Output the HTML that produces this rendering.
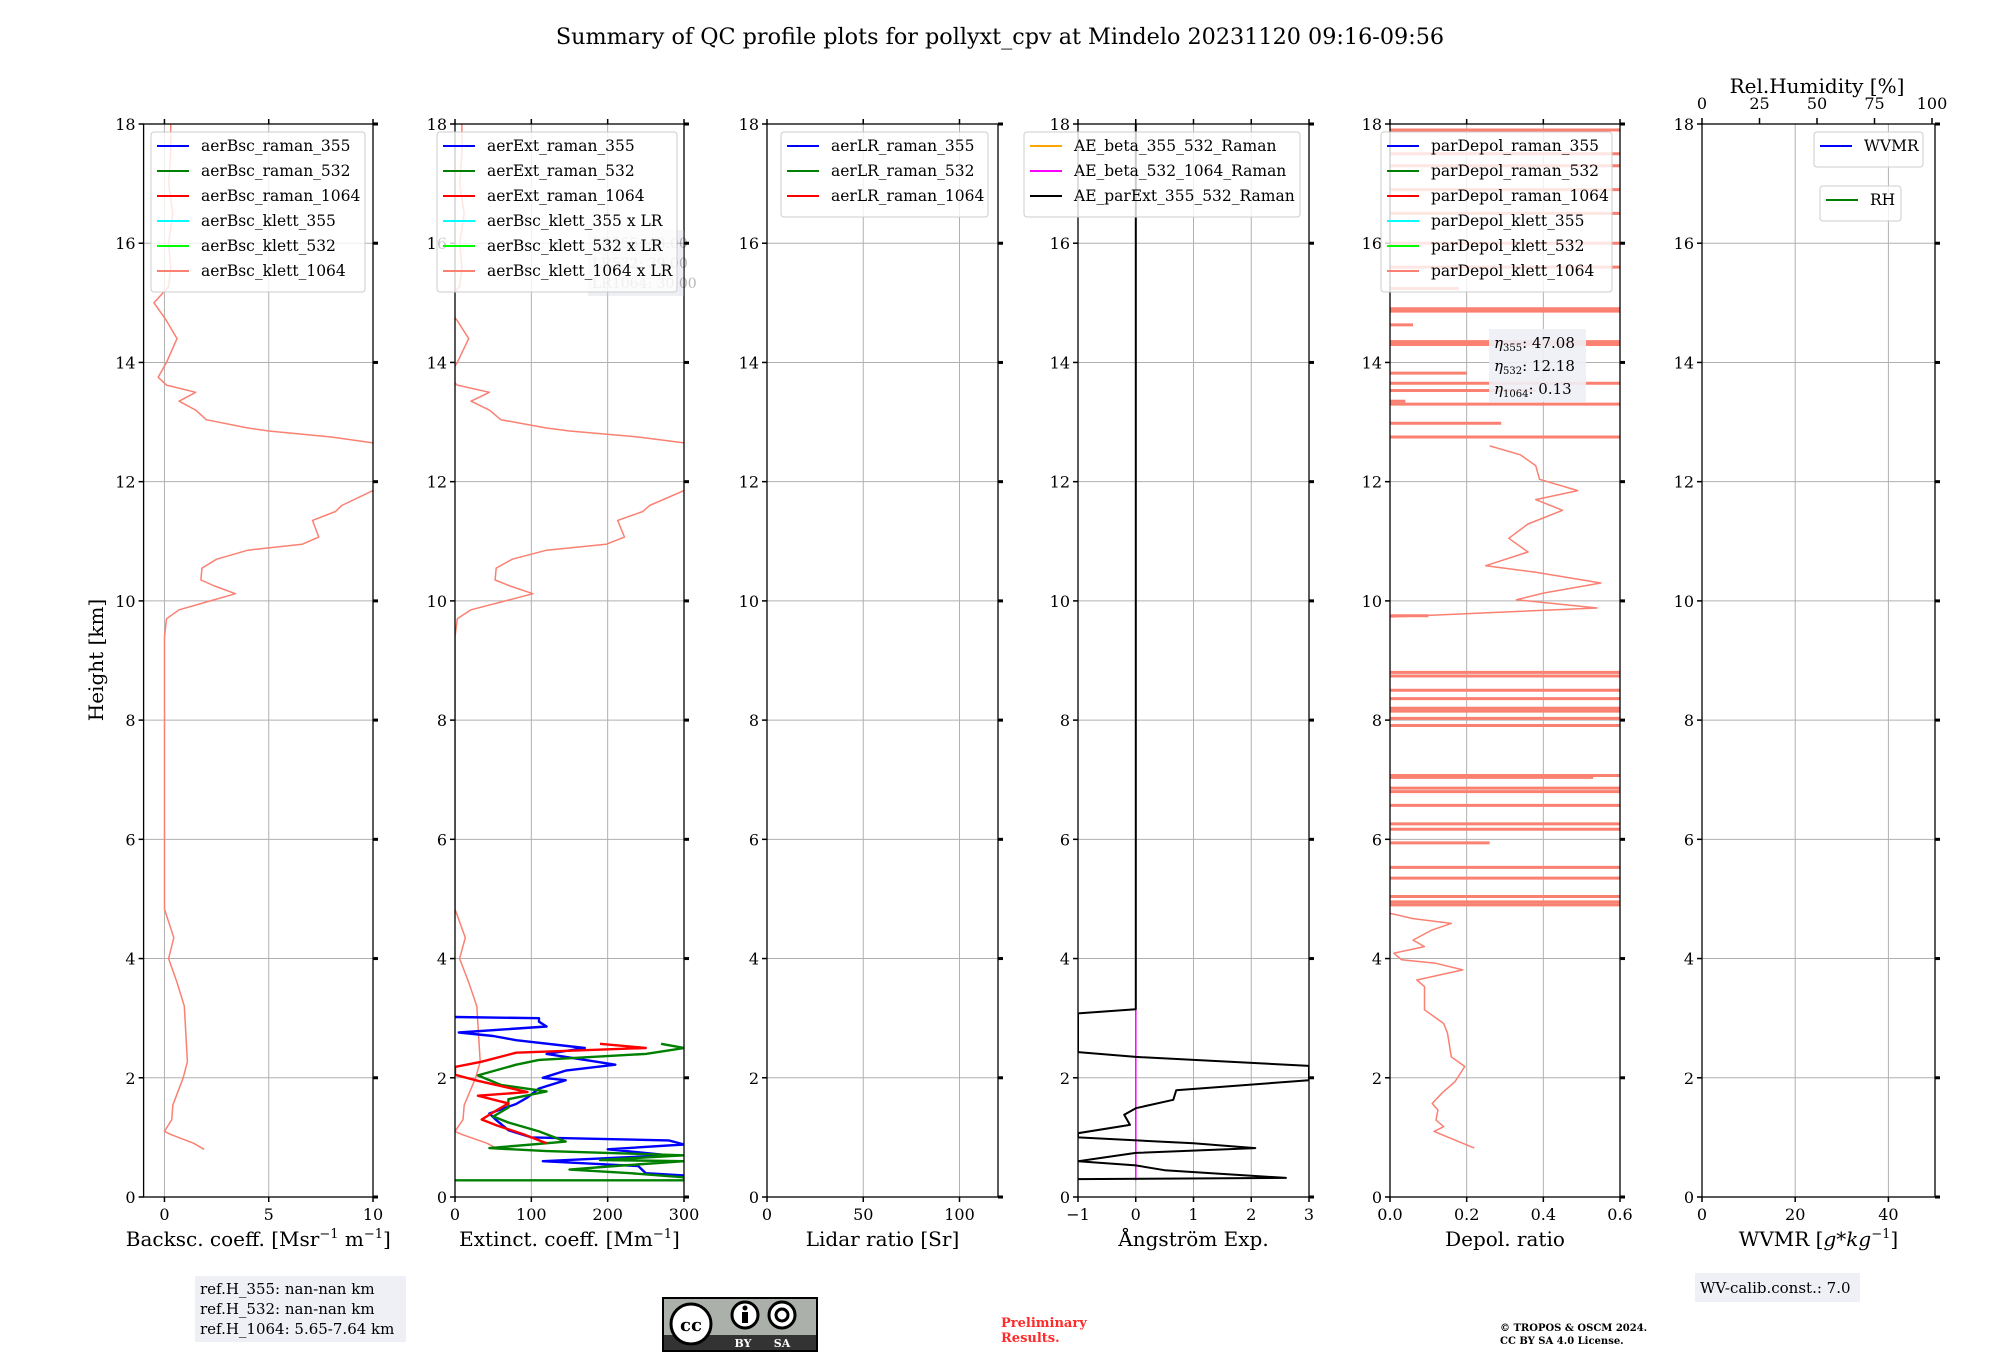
<!DOCTYPE html>
<html><head><meta charset="utf-8"><style>
body{margin:0;background:#fff}
svg{display:block}
text{font-family:"DejaVu Serif","Liberation Serif",serif;fill:#000}
</style></head><body>
<svg id="fig" width="2000" height="1360" viewBox="0 0 2000 1360" xmlns="http://www.w3.org/2000/svg">
<text x="1000" y="44" font-size="22.3" text-anchor="middle">Summary of QC profile plots for pollyxt_cpv at Mindelo 20231120 09:16-09:56</text>
<g id="plots"></g>
<g>
<rect x="195" y="1276" width="211" height="66" fill="#eef0f5"/>
<text x="200" y="1294" font-size="15">ref.H_355: nan-nan km</text>
<text x="200" y="1314" font-size="15">ref.H_532: nan-nan km</text>
<text x="200" y="1334" font-size="15">ref.H_1064: 5.65-7.64 km</text>
</g>
<g>
<rect x="662" y="1297" width="156" height="55" fill="#000"/>
<rect x="664" y="1299" width="152" height="36" fill="#abb1aa"/>
<rect x="664" y="1335" width="152" height="15" fill="#333"/>
<circle cx="691" cy="1324" r="20" fill="#fff" stroke="#000" stroke-width="3"/>
<text x="691" y="1331" font-size="18" font-weight="bold" text-anchor="middle" font-family="Liberation Sans">cc</text>
<circle cx="745" cy="1315" r="13" fill="#fff" stroke="#000" stroke-width="3"/>
<rect x="742" y="1312" width="6" height="11" fill="#000"/><circle cx="745" cy="1308" r="2.5" fill="#000"/>
<circle cx="782" cy="1315" r="13" fill="#fff" stroke="#000" stroke-width="3"/>
<circle cx="782" cy="1315" r="6" fill="none" stroke="#000" stroke-width="3"/>
<text x="743" y="1347" font-size="11" style="fill:#fff" font-weight="bold" text-anchor="middle" font-family="Liberation Sans">BY</text>
<text x="782" y="1347" font-size="11" style="fill:#fff" font-weight="bold" text-anchor="middle" font-family="Liberation Sans">SA</text>
</g>
<text x="1001" y="1327" font-size="13" font-weight="bold" style="fill:#ff2a2a">Preliminary</text>
<text x="1001" y="1342" font-size="13" font-weight="bold" style="fill:#ff2a2a">Results.</text>
<text x="1500" y="1331" font-size="10" font-weight="bold">© TROPOS &amp; OSCM 2024.</text>
<text x="1500" y="1344" font-size="10" font-weight="bold">CC BY SA 4.0 License.</text>
<g>
<rect x="1695" y="1273" width="165" height="29" fill="#eef0f5"/>
<text x="1700" y="1293" font-size="15">WV-calib.const.: 7.0</text>
</g>
</svg>
<script>
// ---------- data ----------
const bscH = [18.0,17.5,17.0,16.5,16.0,15.6,15.27,15.0,14.7,14.4,14.0,13.75,13.62,13.5,13.35,13.2,13.04,12.9,12.85,12.75,12.65,12.3,11.85,11.6,11.5,11.35,11.07,10.95,10.85,10.7,10.55,10.35,10.25,10.12,10.0,9.85,9.7,9.4,8.0,6.0,4.83,4.35,4.0,3.6,3.2,2.27,2.0,1.54,1.3,1.1,1.05,0.9,0.8];
const bsc1064 = [0.3,0.3,0.2,0.4,0.2,0.3,0.2,-0.5,0.1,0.6,0.1,-0.3,0.1,1.5,0.7,1.5,2.0,4.0,5.0,8.0,10.0,14.0,10.0,8.5,8.2,7.1,7.4,6.6,4.0,2.5,1.8,1.75,2.4,3.4,2.2,0.7,0.1,0.0,0.0,0.0,0.0,0.45,0.2,0.6,0.95,1.1,0.9,0.4,0.35,0.0,0.3,1.4,1.9];
const lr1064 = 30;
const ext355H = [3.02,3.0,2.94,2.86,2.76,2.7,2.63,2.5,2.4,2.36,2.22,2.12,2.0,1.96,1.82,1.67,1.56,1.4,1.28,1.12,1.0,0.95,0.88,0.8,0.7,0.6,0.52,0.4,0.36];
const ext355 = [0,110,110,120,5,50,80,170,120,140,210,145,115,145,110,95,80,45,55,70,100,280,300,200,280,115,240,250,300];
const ext532H = [2.57,2.5,2.4,2.3,2.22,2.04,1.88,1.77,1.64,1.5,1.35,1.25,1.1,0.93,0.82,0.77,0.7,0.62,0.6,0.52,0.46,0.4,0.33,0.28,0.28];
const ext532 = [270,300,250,110,80,30,60,120,70,70,50,70,110,145,45,120,300,190,300,210,150,230,300,300,0];
const ext1064H = [2.57,2.5,2.42,2.27,2.18,2.05,1.95,1.76,1.7,1.57,1.46,1.3,1.2,1.05,0.9];
const ext1064 = [190,250,80,35,0,0,30,95,30,70,55,35,55,90,120];
const aeH = [18,3.15,3.08,2.43,2.35,2.2,1.96,1.79,1.63,1.49,1.38,1.21,1.07,1.0,0.9,0.82,0.74,0.6,0.53,0.45,0.32,0.3];
const aeExt = [0,0,-1,-1,0,3,3,0.7,0.65,0,-0.2,-0.1,-1,-1,1,2.07,0,-1,0,0.5,2.6,-1];
const aeBetaH = [3.14,0.28];
const aeBeta = [0,0];
const depH = [0.82,1.1,1.18,1.29,1.46,1.57,1.74,1.94,2.19,2.35,2.75,2.91,3.14,3.53,3.64,3.81,3.92,3.98,4.09,4.2,4.31,4.48,4.59,4.67,4.76,9.73,9.88,10.02,10.13,10.3,10.48,10.59,10.82,11.05,11.29,11.52,11.7,11.85,12.04,12.27,12.45,12.6];
const dep1064 = [0.22,0.115,0.14,0.12,0.125,0.11,0.135,0.17,0.195,0.16,0.15,0.14,0.09,0.09,0.07,0.19,0.12,0.03,0.01,0.09,0.06,0.11,0.16,0.06,0.0,0.0,0.54,0.33,0.4,0.55,0.38,0.25,0.36,0.31,0.36,0.45,0.38,0.49,0.39,0.38,0.34,0.26];
const spikeH = [4.9,4.95,5.04,5.35,5.53,5.94,6.17,6.26,6.57,6.8,6.86,7.04,7.07,7.91,8.03,8.15,8.2,8.36,8.5,8.74,8.8,9.75,12.75,12.98,13.3,13.35,13.53,13.65,13.82,14.3,14.35,14.63,14.86,14.9,15.24,15.6,16.0,16.5,16.9,17.3,17.5,17.9];
const spikeV = [0.6,0.6,0.6,0.6,0.6,0.26,0.6,0.6,0.6,0.6,0.6,0.53,0.6,0.6,0.6,0.6,0.6,0.6,0.6,0.6,0.6,0.1,0.6,0.29,0.6,0.04,0.38,0.6,0.2,0.6,0.6,0.06,0.6,0.6,0.18,0.6,0.6,0.6,0.6,0.6,0.6,0.6];
const yTicks = [0,2,4,6,8,10,12,14,16,18];
const p1Ticks = [0,5,10], p2Ticks=[0,100,200,300], p3Ticks=[0,50,100], p4Ticks=[-1,0,1,2,3], p5Ticks=[0,0.2,0.4,0.6], p6Ticks=[0,20,40], rhTicks=[0,25,50,75,100];
const p5Labels = ['0.0','0.2','0.4','0.6'];

// ---------- drawing ----------
const NS='http://www.w3.org/2000/svg';
const root=document.getElementById('plots');
const Y0=1197, Y18=124;
function yS(h){return Y0-(h/18)*(Y0-Y18);}
function mk(tag,attrs,parent){const e=document.createElementNS(NS,tag);for(const k in attrs)e.setAttribute(k,attrs[k]);(parent||root).appendChild(e);return e;}
function panel(name,x0,x1,xmin,xmax,ticks,labels,xlabel){
  const g=mk('g',{});
  
  
  const xs=v=>x0+(v-xmin)/(xmax-xmin)*(x1-x0);
  const clipId='c'+name;
  const cp=mk('clipPath',{id:clipId},g);mk('rect',{x:x0,y:Y18,width:x1-x0,height:Y0-Y18},cp);
  const grid=mk('g',{stroke:'#b0b0b0','stroke-width':1},g);
  
  
  yTicks.forEach(t=>mk('line',{x1:x0,x2:x1,y1:yS(t),y2:yS(t)},grid));
  ticks.forEach(t=>mk('line',{x1:xs(t),x2:xs(t),y1:Y18,y2:Y0},grid));
  const data=mk('g',{'clip-path':'url(#'+clipId+')'},g);
  mk('rect',{x:x0,y:Y18,width:x1-x0,height:Y0-Y18,fill:'none',stroke:'#000','stroke-width':1.3},g);
  yTicks.forEach(t=>{
    mk('line',{x1:x0-5,x2:x0,y1:yS(t),y2:yS(t),stroke:'#000','stroke-width':1.5},g);
    mk('line',{x1:x1,x2:x1+5,y1:yS(t),y2:yS(t),stroke:'#000','stroke-width':3},g);
    const tl=mk('text',{x:x0-8,y:yS(t)+6,'font-size':16,'text-anchor':'end'},g);tl.textContent=t;
    
    
  });
  ticks.forEach((t,i)=>{
    mk('line',{x1:xs(t),x2:xs(t),y1:Y0,y2:Y0+5,stroke:'#000','stroke-width':1.5},g);
    if(name!=='wvmr-panel') mk('line',{x1:xs(t),x2:xs(t),y1:Y18-5,y2:Y18,stroke:'#000','stroke-width':1.5},g);
    const tl=mk('text',{x:xs(t),y:Y0+23,'font-size':16,'text-anchor':'middle'},g);tl.textContent=labels?labels[i]:(t<0?'\u2212'+(-t):t);
    
    
  });
  const xl=mk('text',{x:(x0+x1)/2,y:1246,'font-size':20,'text-anchor':'middle'},g);xl.innerHTML=xlabel;
  
  
  return {xs,data,g};
}
function line(p,H,V,color,w,name){
  const pts=H.map((h,i)=>p.xs(V[i]).toFixed(1)+','+yS(h).toFixed(1)).join(' ');
  const e=mk('polyline',{points:pts,fill:'none',stroke:color,'stroke-width':w,'stroke-linejoin':'round'},p.data);
  
  
}
function legend(g,x,y,w,items,lh){
  const lg=mk('g',{},g);
  
  
  mk('rect',{x:x,y:y,width:w,height:items.length*lh+10,rx:3,fill:'#fff','fill-opacity':0.8,stroke:'#ccc'},lg);
  items.forEach((it,i)=>{
    const cy=y+14+i*lh;
    mk('line',{x1:x+6,x2:x+38,y1:cy,y2:cy,stroke:it[1],'stroke-width':2},lg);
    const t=mk('text',{x:x+50,y:cy+5,'font-size':15.5},lg);t.textContent=it[0];
    
    
  });
}
// panel 1
const p1=panel('backscatter-panel',143.6,373,-1,10,p1Ticks,null,'Backsc. coeff. [Msr<tspan dy="-8" font-size="13">−1</tspan><tspan dy="8"> m</tspan><tspan dy="-8" font-size="13">−1</tspan><tspan dy="8">]</tspan>');
line(p1,bscH,bsc1064,'#fa8072',1.5,'aerBsc-klett-1064-line');
legend(p1.g,151,132,214,[['aerBsc_raman_355','#0000ff'],['aerBsc_raman_532','#008000'],['aerBsc_raman_1064','#ff0000'],['aerBsc_klett_355','#00ffff'],['aerBsc_klett_532','#00ff00'],['aerBsc_klett_1064','#fa8072']],25);
// panel 2
const p2=panel('extinction-panel',455,684,0,300,p2Ticks,null,'Extinct. coeff. [Mm<tspan dy="-8" font-size="13">−1</tspan><tspan dy="8">]</tspan>');
line(p2,bscH,bsc1064.map(v=>v*lr1064),'#fa8072',1.5,'aerBsc-klett-1064-x-lr-line');
line(p2,ext355H,ext355,'#0000ff',2.4,'aerExt-raman-355-line');
line(p2,ext532H,ext532,'#008000',2.4,'aerExt-raman-532-line');
line(p2,ext1064H,ext1064,'#ff0000',2.4,'aerExt-raman-1064-line');
(function(){const b=mk('g',{opacity:0.3},p2.g);


mk('rect',{x:588,y:230,width:96,height:66,fill:'#c8cee0'},b);
['LR355: 48.00','LR532: 39.00','LR1064: 30.00'].forEach((s,i)=>{const t=mk('text',{x:592,y:248+i*20,'font-size':14},b);t.textContent=s;});})();
legend(p2.g,437,132,240,[['aerExt_raman_355','#0000ff'],['aerExt_raman_532','#008000'],['aerExt_raman_1064','#ff0000'],['aerBsc_klett_355 x LR','#00ffff'],['aerBsc_klett_532 x LR','#00ff00'],['aerBsc_klett_1064 x LR','#fa8072']],25);
// panel 3
const p3=panel('lidar-ratio-panel',767,998,0,120,p3Ticks,null,'Lidar ratio [Sr]');
legend(p3.g,781,132,207,[['aerLR_raman_355','#0000ff'],['aerLR_raman_532','#008000'],['aerLR_raman_1064','#ff0000']],25);
// panel 4
const p4=panel('angstrom-panel',1078,1309,-1,3,p4Ticks,null,'Ångström Exp.');
line(p4,aeBetaH,aeBeta,'#ff00ff',1.5,'ae-beta-532-1064-line');
line(p4,aeH,aeExt,'#000000',2,'ae-parExt-355-532-line');
legend(p4.g,1024,132,276,[['AE_beta_355_532_Raman','#ffa500'],['AE_beta_532_1064_Raman','#ff00ff'],['AE_parExt_355_532_Raman','#000000']],25);
// panel 5
const p5=panel('depol-panel',1390,1620,0,0.6,p5Ticks,p5Labels,'Depol. ratio');
spikeH.forEach((h,i)=>{const e=mk('line',{x1:p5.xs(0),x2:p5.xs(spikeV[i]),y1:yS(h),y2:yS(h),stroke:'#fa8072','stroke-width':3},p5.data);

});
line(p5,depH.slice(0,25),dep1064.slice(0,25),'#fa8072',1.5,'parDepol-klett-1064-low');
line(p5,depH.slice(25),dep1064.slice(25),'#fa8072',1.5,'parDepol-klett-1064-high');
legend(p5.g,1381,132,231,[['parDepol_raman_355','#0000ff'],['parDepol_raman_532','#008000'],['parDepol_raman_1064','#ff0000'],['parDepol_klett_355','#00ffff'],['parDepol_klett_532','#00ff00'],['parDepol_klett_1064','#fa8072']],25);
(function(){const b=mk('g',{},p5.g);


mk('rect',{x:1489,y:329,width:97,height:73,fill:'#eef0f5','fill-opacity':0.9},b);
[['355','47.08'],['532','12.18'],['1064','0.13']].forEach((s,i)=>{const t=mk('text',{x:1494,y:348+i*23,'font-size':15},b);
t.innerHTML='<tspan font-style="italic">η</tspan><tspan font-size="10" dy="3">'+s[0]+'</tspan><tspan dy="-3">: '+s[1]+'</tspan>';});})();
// panel 6
const p6=panel('wvmr-panel',1702,1935,0,50,p6Ticks,null,'WVMR [<tspan font-style="italic">g</tspan>*<tspan font-style="italic">kg</tspan><tspan dy="-8" font-size="13">−1</tspan><tspan dy="8">]</tspan>');
(function(){const xr=v=>1702+v/100*230;
rhTicks.forEach(t=>{mk('line',{x1:xr(t),x2:xr(t),y1:Y18-6,y2:Y18,stroke:'#000','stroke-width':1.5},p6.g);
const tl=mk('text',{x:xr(t),y:109,'font-size':16,'text-anchor':'middle'},p6.g);tl.textContent=t;

});
const tt=mk('text',{x:1817,y:93,'font-size':20,'text-anchor':'middle'},p6.g);tt.textContent='Rel.Humidity [%]';

})();
legend(p6.g,1814,132,109,[['WVMR','#0000ff']],25);
legend(p6.g,1820,186,81,[['RH','#008000']],25);
// y label
const yl=mk('text',{x:0,y:0,'font-size':20,'text-anchor':'middle',transform:'translate(103,660) rotate(-90)'});
yl.textContent='Height [km]';


</script>
</body></html>
